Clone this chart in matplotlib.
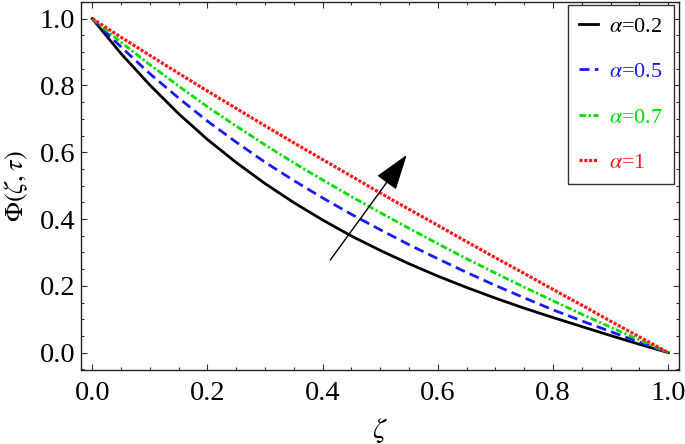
import matplotlib
matplotlib.use("Agg")
import matplotlib.pyplot as plt
from matplotlib.ticker import MultipleLocator, FormatStrFormatter
from matplotlib.patches import ArrowStyle

plt.rcParams['font.family'] = ['Liberation Serif', 'DejaVu Serif']
plt.rcParams['mathtext.fontset'] = 'stix'

zeta = [0.0, 0.05, 0.1, 0.15, 0.2, 0.25, 0.3, 0.35, 0.4, 0.45, 0.5,
        0.55, 0.6, 0.65, 0.7, 0.75, 0.8, 0.85, 0.9, 0.95, 1.0]
phi_a02 = [1.0, 0.895, 0.801, 0.715, 0.638, 0.569, 0.506, 0.449, 0.397, 0.349, 0.306,
           0.266, 0.229, 0.195, 0.163, 0.133, 0.105, 0.078, 0.051, 0.025, 0.0]
phi_a05 = [1.0, 0.915, 0.835, 0.762, 0.693, 0.630, 0.570, 0.515, 0.463, 0.414, 0.368,
           0.323, 0.281, 0.240, 0.201, 0.164, 0.128, 0.095, 0.063, 0.031, 0.0]
phi_a07 = [1.0, 0.929, 0.862, 0.798, 0.736, 0.678, 0.622, 0.568, 0.517, 0.467, 0.419,
           0.372, 0.326, 0.281, 0.238, 0.196, 0.155, 0.115, 0.076, 0.038, 0.0]
phi_a1 = [1.0, 0.944, 0.890, 0.836, 0.783, 0.731, 0.679, 0.628, 0.578, 0.528, 0.478,
          0.429, 0.381, 0.332, 0.284, 0.237, 0.189, 0.142, 0.094, 0.047, 0.0]
labels = [r'$\alpha$=0.2', r'$\alpha$=0.5', r'$\alpha$=0.7', r'$\alpha$=1']
colors = ['black', '#1a1aff', '#00dd00', '#ff1a1a']
styles = ['-', (0, (3.6, 1.9)), (0, (2.4, 0.9, 0.8, 0.9)), (0, (1, 0.5))]
widths = [2.0, 2.0, 2.0, 2.3]

fig = plt.figure(figsize=(6.85, 4.44), dpi=100)
ax = fig.add_axes([81/685, 1-370/444, (679-81)/685, (370-1.7)/444])

for ys, c, ls, lw, lab in zip([phi_a02, phi_a05, phi_a07, phi_a1], colors, styles, widths, labels):
    ax.plot(zeta, ys, color=c, linestyle=ls, lw=lw, label=lab)

ax.set_xlim(-0.0196, 1.0186)
ax.set_ylim(-0.052, 1.0506)
ax.xaxis.set_major_locator(MultipleLocator(0.2))
ax.yaxis.set_major_locator(MultipleLocator(0.2))
ax.xaxis.set_minor_locator(MultipleLocator(0.05))
ax.yaxis.set_minor_locator(MultipleLocator(0.05))
ax.xaxis.set_major_formatter(FormatStrFormatter('%.1f'))
ax.yaxis.set_major_formatter(FormatStrFormatter('%.1f'))
ax.tick_params(which='both', direction='in', top=True, right=True, width=0.8, color='#333333')
ax.tick_params(which='major', length=4, labelsize=20.5)
ax.tick_params(which='minor', length=2)
ax.tick_params(axis='x', which='major', pad=8)
ax.tick_params(axis='y', which='major', pad=4)
for s in ax.spines.values():
    s.set_linewidth(1.0)
    s.set_color('#222222')

ax.set_xlabel(r'$\zeta$', fontsize=21, labelpad=7)
ax.set_ylabel(r'$\Phi(\zeta,\tau)$', fontsize=19, labelpad=7)

ax.annotate('', xy=(0.546, 0.592), xytext=(0.413, 0.277),
            arrowprops=dict(arrowstyle=ArrowStyle('-|>', head_length=1.5, head_width=0.5),
                            mutation_scale=15, lw=1.0, color='black', shrinkA=0, shrinkB=0))

leg = ax.legend(loc='upper right', bbox_to_anchor=(0.992, 0.991), fontsize=16,
                handlelength=0.85, labelspacing=1.12, handletextpad=0.5,
                borderpad=0.5, fancybox=False, framealpha=1, edgecolor='#333333', borderaxespad=0)
leg.get_frame().set_linewidth(1.0)
for t, c in zip(leg.get_texts(), colors):
    t.set_color(c)

fig.savefig('out.png', dpi=100)
